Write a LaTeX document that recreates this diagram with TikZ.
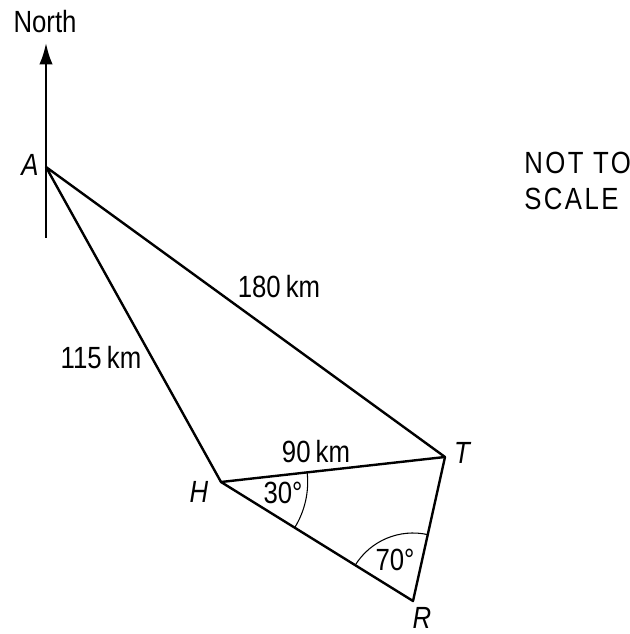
\documentclass[tikz,border=0pt]{standalone}
\usepackage{fontspec}
\setmainfont[FakeStretch=0.84]{Liberation Sans}
\usetikzlibrary{arrows.meta,angles}
\begin{document}
\begin{tikzpicture}[x=0.75pt,y=0.75pt,
  lbl/.style={inner sep=0pt,font=\fontsize{23}{27}\selectfont},
  vlbl/.style={inner sep=0pt,font=\fontsize{23}{27}\selectfont\itshape},
  edge/.style={line width=1.8pt,line join=round},
  anglearc/.style={draw,line width=0.8pt}]
\useasboundingbox (0,0) rectangle (629,634);
\coordinate (A) at (46,467);
\coordinate (Nbot) at (46,396);
\coordinate (Ntop) at (46,591);
\coordinate (H) at (221,152);
\coordinate (T) at (445,177);
\coordinate (R) at (413,33);
\draw[line width=1.8pt,-{Latex[length=16pt,width=10pt]}] (Nbot) -- (Ntop);
\draw[edge] (A) -- (T) -- (R) -- (H) -- cycle;
\draw[edge] (H) -- (T);
\pic[anglearc, angle radius=65pt] {angle = R--H--T};
\pic[anglearc, angle radius=51pt] {angle = T--R--H};
\node[lbl] (north) at (45,612) {North};
\node[vlbl] (lA) at (30,469) {A};
\node[vlbl] (lH) at (199,142) {H};
\node[vlbl] (lT) at (462,181) {T};
\node[vlbl] (lR) at (422,16) {R};
\node[lbl,anchor=west,font=\fontsize{23}{27}\selectfont\addfontfeature{LetterSpace=8}] (nts1) at (524,471) {NOT TO};
\node[lbl,anchor=west,font=\fontsize{23}{27}\selectfont\addfontfeature{LetterSpace=8}] (nts2) at (524,435) {SCALE};
\node[lbl] (d180) at (279,347) {180\,km};
\node[lbl] (d115) at (101,276) {115\,km};
\node[lbl] (d90) at (316,182) {90\,km};
\node[lbl] (a30) at (283,141) {30°};
\node[lbl] (a70) at (395,74) {70°};
\end{tikzpicture}
\end{document}
